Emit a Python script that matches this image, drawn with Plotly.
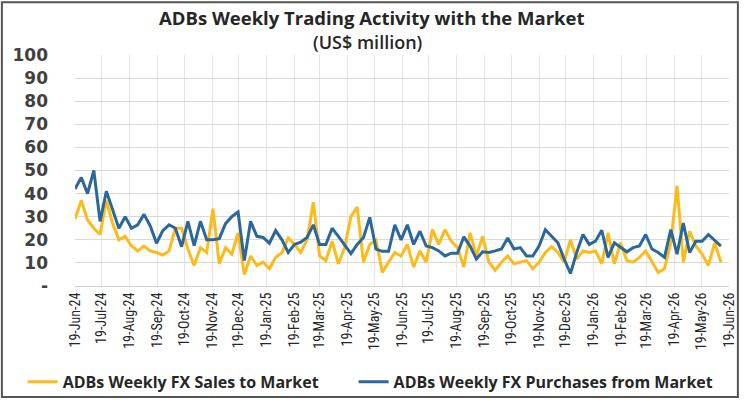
import pandas as pd
import plotly.graph_objects as go

# ---- data (US$ million), weekly from 19-Jun-24 ----
start_date = "2024-06-19"

fx_sales = [
    29, 37, 28.6, 25, 22.3, 37, 27, 20, 21.5, 17.3,
    15.2, 17.3, 15.2, 14.5, 13.4, 15.2, 25, 25, 16, 8.9,
    16.6, 14.5, 33.5, 9.6, 16.6, 13.8, 23,
    5, 13, 8.9, 10.3, 7.5, 12.4, 14.5, 20.8, 18,
    14.5, 20, 36.3, 13, 11, 19.4, 9.6, 16.6, 30, 34.2,
    10.3, 18, 20, 5.9, 10.3, 14.5,
    13, 18, 8.2, 15.2, 10.3, 24.4, 18, 24.4, 19.4, 16.6,
    8.2, 23, 13, 21.5, 10.3, 6.8, 10.3, 13, 9.6, 10.3,
    11, 7.5, 10.3, 14.5, 17, 14.5, 10.3,
    20, 11.7, 15.2, 14.5, 15.2, 9.6, 23, 9.6, 18.7, 11,
    10.3, 12.4, 15.2, 10.3, 5.9, 7.5, 18.7, 43.4, 10.3, 23.7,
    17.3, 13.8, 8.9, 18.7, 10.3,
]

fx_purchases = [
    42, 47, 40, 50, 28, 41, 33, 25, 30, 25,
    26.5, 31, 26, 18.5, 24, 26.5, 25, 17, 28, 17.5,
    28, 20, 20, 20.5, 27, 30, 32,
    11, 28, 21.5, 21, 18.5, 24, 20, 14.5, 18, 19,
    21, 26.5, 18, 18, 25, 21.5, 18, 14, 18, 21,
    29.7, 16, 15, 15, 26.5,
    20, 26.5, 18, 23.7, 17.3, 16.6, 15.2, 13, 14.2, 14.2,
    21.3, 17.3, 11.7, 14.8, 14.5, 15.2, 16, 20.8, 16, 16.6,
    13, 13, 17.3, 24.4, 21.5, 18.7, 11.7,
    5.4, 14.5, 22.3, 18, 19.4, 24.1, 12.4, 18.7, 16.6, 14.8,
    16.6, 17.3, 22.3, 16, 14.5, 12.4, 24.4, 13.8, 27.2, 14.5,
    19.4, 19.4, 22.3, 20, 17.3,
]

tick_dates = [
    "2024-06-19", "2024-07-19", "2024-08-19", "2024-09-19", "2024-10-19",
    "2024-11-19", "2024-12-19", "2025-01-19", "2025-02-19", "2025-03-19",
    "2025-04-19", "2025-05-19", "2025-06-19", "2025-07-19", "2025-08-19",
    "2025-09-19", "2025-10-19", "2025-11-19", "2025-12-19", "2026-01-19",
    "2026-02-19", "2026-03-19", "2026-04-19", "2026-05-19", "2026-06-19",
]
tick_labels = [
    "19-Jun-24", "19-Jul-24", "19-Aug-24", "19-Sep-24", "19-Oct-24",
    "19-Nov-24", "19-Dec-24", "19-Jan-25", "19-Feb-25", "19-Mar-25",
    "19-Apr-25", "19-May-25", "19-Jun-25", "19-Jul-25", "19-Aug-25",
    "19-Sep-25", "19-Oct-25", "19-Nov-25", "19-Dec-25", "19-Jan-26",
    "19-Feb-26", "19-Mar-26", "19-Apr-26", "19-May-26", "19-Jun-26",
]
y_ticks = [0, 10, 20, 30, 40, 50, 60, 70, 80, 90, 100]
y_labels = ["-", "10", "20", "30", "40", "50", "60", "70", "80", "90", "100"]

series_names = ["ADBs Weekly FX Sales to Market", "ADBs Weekly FX Purchases from Market"]

weeks = pd.date_range(start_date, periods=len(fx_sales), freq="7D")

YELLOW = "#FDBB1B"
BLUE = "#2B679B"

fig = go.Figure()
fig.add_trace(go.Scatter(x=weeks, y=fx_sales, mode="lines", name=series_names[0],
                         line=dict(color=YELLOW, width=3), legend="legend"))
fig.add_trace(go.Scatter(x=weeks, y=fx_purchases, mode="lines", name=series_names[1],
                         line=dict(color=BLUE, width=3), legend="legend2"))

L, R, T, B = 75, 11, 55, 118
W, H = 748, 410
pw, ph = W - L - R, H - T - B


def xp(p):
    return (p - L) / pw


def yp(q):
    return (H - B - q) / ph


legend_font = dict(family="Open Sans", size=16, color="#262626", weight="bold")

fig.update_layout(
    width=W, height=H,
    margin=dict(l=L, r=R, t=T, b=B),
    paper_bgcolor="white", plot_bgcolor="white",
    showlegend=True,
    legend=dict(orientation="h", x=xp(22), y=yp(373), xanchor="left", yanchor="top",
                font=legend_font, itemwidth=30, bgcolor="rgba(0,0,0,0)"),
    legend2=dict(orientation="h", x=xp(357), y=yp(373), xanchor="left", yanchor="top",
                 font=legend_font, itemwidth=30, bgcolor="rgba(0,0,0,0)"),
    annotations=[
        dict(text="<b>ADBs Weekly Trading Activity with the Market</b>", x=xp(375), y=yp(17),
             xref="paper", yref="paper", showarrow=False, xanchor="center", yanchor="middle",
             font=dict(family="Open Sans", size=18.5, color="#262626")),
        dict(text="(US$ million)", x=xp(371), y=yp(42),
             xref="paper", yref="paper", showarrow=False, xanchor="center", yanchor="middle",
             font=dict(family="Open Sans", size=18, color="#262626", weight=600)),
    ],
    shapes=[
        dict(type="rect", xref="paper", yref="paper",
             x0=xp(1), x1=xp(746), y0=yp(406), y1=yp(1),
             line=dict(color="#555555", width=2), fillcolor="rgba(0,0,0,0)", layer="below"),
    ],
)

fig.update_xaxes(
    type="date", range=[tick_dates[0], tick_dates[-1]],
    tickvals=tick_dates, ticktext=tick_labels, tickangle=-90,
    tickfont=dict(family="Liberation Sans Narrow, Roboto Condensed, Arial Narrow, sans-serif",
                  size=14, color="#262626"),
    showgrid=True, gridcolor="#E4E4E4", gridwidth=1,
    showline=True, linecolor="#D0D0D0", linewidth=1,
    ticks="", zeroline=False,
)
fig.update_yaxes(
    range=[0, 100], tickvals=y_ticks, ticktext=y_labels,
    tickfont=dict(family="DejaVu Sans", size=17, color="#404040", weight="bold"),
    showgrid=True, gridcolor="#DADADA", gridwidth=1,
    zeroline=False, showline=False, ticks="",
    ticklabelstandoff=26,
)

fig.write_html("out.html")
